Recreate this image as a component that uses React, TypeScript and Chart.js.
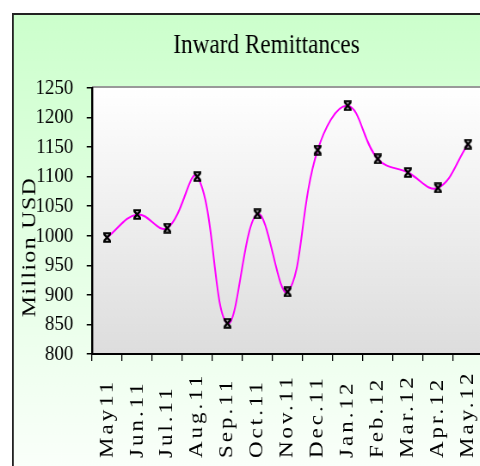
import React, { useEffect, useRef } from 'react';
import Chart from 'chart.js/auto';

// ---- data ----
const categories = ['May11', 'Jun.11', 'Jul.11', 'Aug.11', 'Sep.11', 'Oct.11', 'Nov.11', 'Dec.11', 'Jan.12', 'Feb.12', 'Mar.12', 'Apr.12', 'May.12'];
const remittances = [997, 1036, 1013, 1100, 852, 1037, 905, 1145, 1220, 1130, 1107, 1081, 1155];
const yMin = 800;
const yMax = 1250;
const yStep = 50;
const chartTitle = 'Inward Remittances';
const yAxisTitle = 'Million USD';

// ---- layout / style ----
const SX = 0.86; // horizontal squeeze of the whole drawing
const W = 620;
const H = 480;
const BOX_L = 15;
const BOX_T = 14;
const PLOT_BOTTOM = 354;
const LABEL_BOTTOM = 458;
const FONT = '"Liberation Serif", "Times New Roman", serif';

function makeMarker(): HTMLCanvasElement {
  const c = document.createElement('canvas');
  c.width = 11;
  c.height = 11;
  const g = c.getContext('2d')!;
  g.strokeStyle = '#000';
  g.lineWidth = 2.4;
  g.beginPath();
  g.moveTo(1.8, 1.8);
  g.lineTo(9.2, 9.2);
  g.moveTo(9.2, 1.8);
  g.lineTo(1.8, 9.2);
  g.stroke();
  g.lineWidth = 2;
  g.beginPath();
  g.moveTo(1, 1.3);
  g.lineTo(10, 1.3);
  g.moveTo(1, 9.7);
  g.lineTo(10, 9.7);
  g.stroke();
  return c;
}

const decoPlugin = {
  id: 'deco',
  beforeDraw(chart: any) {
    const { ctx, chartArea: ca } = chart;
    ctx.save();
    const g = ctx.createLinearGradient(0, BOX_T, 0, 466);
    g.addColorStop(0, '#CCFFCC');
    g.addColorStop(1, '#FAFFFA');
    ctx.fillStyle = g;
    ctx.fillRect(BOX_L, BOX_T, W - BOX_L, H - BOX_T);
    ctx.strokeStyle = '#222';
    ctx.lineWidth = 2;
    ctx.beginPath();
    ctx.moveTo(BOX_L, H);
    ctx.lineTo(BOX_L, BOX_T);
    ctx.lineTo(W, BOX_T);
    ctx.stroke();

    const pg = ctx.createLinearGradient(0, ca.top, 0, ca.bottom);
    pg.addColorStop(0, '#FFFFFF');
    pg.addColorStop(1, '#DDDDDD');
    ctx.fillStyle = pg;
    ctx.fillRect(ca.left, ca.top, ca.right - ca.left, ca.bottom - ca.top);
    ctx.strokeStyle = '#999';
    ctx.lineWidth = 2;
    ctx.beginPath();
    ctx.moveTo(ca.left, ca.top - 1);
    ctx.lineTo(ca.right, ca.top - 1);
    ctx.stroke();
    ctx.restore();

    // x labels: start at a common bottom line, spaced letters
    const xs = chart.scales.x;
    const items = xs.getLabelItems();
    items.forEach((it: any) => {
      it.options.textAlign = 'left';
      it.options.translation = [it.options.translation[0], LABEL_BOTTOM];
    });
    if (!xs.__patched) {
      const orig = xs.drawLabels;
      xs.drawLabels = function (area: any) {
        const c = this.ctx;
        c.save();
        c.letterSpacing = '3px';
        orig.call(this, area);
        c.restore();
      };
      xs.__patched = true;
    }
    const sub = chart.boxes.find((b: any) => b.options && b.options.text === yAxisTitle);
    if (sub && !sub.__patched) {
      const origDraw = sub.draw;
      sub.draw = function (area: any) {
        const c = this.ctx;
        c.save();
        c.letterSpacing = '1.3px';
        origDraw.call(this, area);
        c.restore();
      };
      sub.__patched = true;
    }
  },
};

export default function App() {
  const ref = useRef<HTMLCanvasElement>(null);

  useEffect(() => {
    if (!ref.current) return;
    const chart = new Chart(ref.current, {
      type: 'line',
      data: {
        labels: categories,
        datasets: [
          {
            data: remittances,
            borderColor: '#FF00FF',
            borderWidth: 2,
            tension: 0.4,
            fill: false,
            pointStyle: makeMarker() as any,
            pointRadius: 4,
            yAxisID: 'y',
          },
        ],
      },
      options: {
        responsive: false,
        animation: false,
        devicePixelRatio: 1,
        layout: { padding: { left: 16, top: BOX_T, right: 16.2, bottom: 0 } },
        plugins: {
          legend: { display: false },
          tooltip: { enabled: false },
          title: {
            display: true,
            text: chartTitle,
            color: '#000',
            font: { family: FONT, size: 27, weight: 'normal', lineHeight: 1.2 },
            padding: { top: 15.8, bottom: 25.8 },
          },
          subtitle: {
            display: true,
            position: 'left',
            text: yAxisTitle,
            color: '#000',
            font: { family: FONT, size: 24, weight: 'normal', lineHeight: 0.5 },
            padding: { top: 12.6, bottom: 0 },
          },
        },
        scales: {
          x: {
            type: 'category',
            offset: true,
            grid: { offset: true, drawOnChartArea: false, drawTicks: true, tickLength: 7, color: '#000', lineWidth: 1.3 },
            border: { display: true, color: '#000', width: 2 },
            ticks: {
              color: '#000',
              font: { family: FONT, size: 23 },
              minRotation: 90,
              maxRotation: 90,
              autoSkip: false,
              padding: 4,
            },
            afterFit: (s: any) => {
              s.height = H - PLOT_BOTTOM;
            },
          },
          y: {
            type: 'linear',
            position: 'left',
            min: yMin,
            max: yMax,
            ticks: {
              stepSize: yStep,
              color: '#000',
              font: { family: FONT, size: 22 },
              padding: 15.6,
              callback: (v: any) => String(v),
            },
            grid: { drawOnChartArea: false, drawTicks: true, tickLength: 6.2, color: '#000', lineWidth: 1.5 },
            border: { display: true, color: '#000', width: 2.4 },
            afterFit: (s: any) => {
              s.width = 66.4;
            },
          },
          y2: {
            type: 'linear',
            position: 'right',
            display: true,
            grid: { display: false },
            border: { display: false },
            ticks: { display: false },
            afterFit: (s: any) => {
              s.width = 42.1;
            },
          },
        },
      },
      plugins: [decoPlugin],
    } as any);
    return () => chart.destroy();
  }, []);

  return (
    <div style={{ position: 'fixed', left: 0, top: 0, width: 480, height: 466, overflow: 'hidden', background: '#fff' }}>
      <div style={{ width: W, height: H, transform: `scaleX(${SX})`, transformOrigin: '0 0' }}>
        <canvas ref={ref} width={W} height={H} style={{ display: 'block' }} />
      </div>
    </div>
  );
}
